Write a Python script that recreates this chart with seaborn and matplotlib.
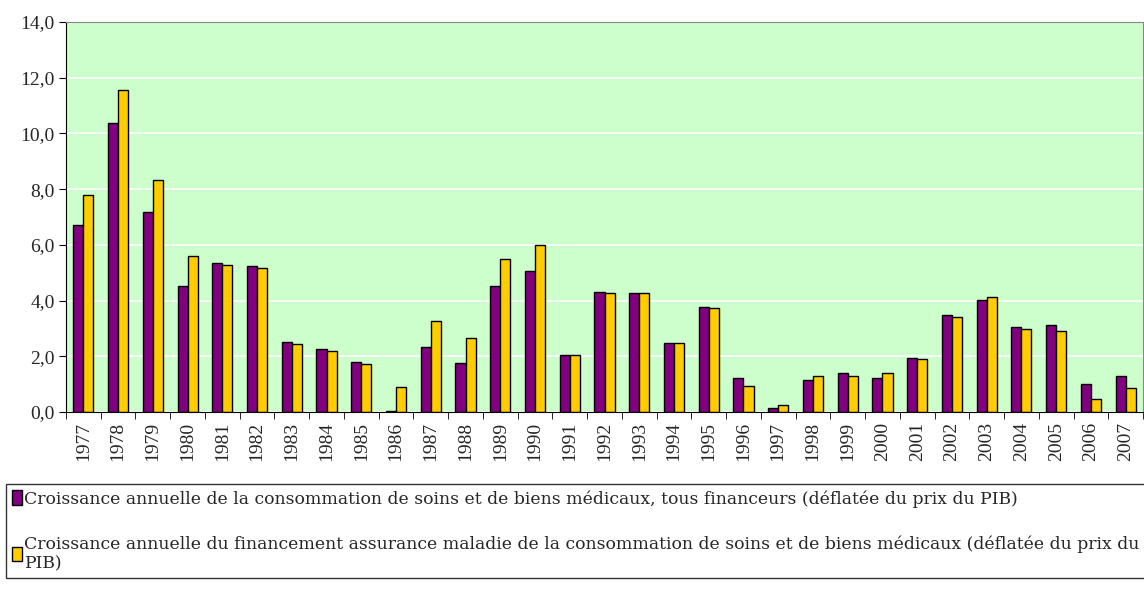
import numpy as np
import pandas as pd
import matplotlib
matplotlib.use("Agg")
import matplotlib.pyplot as plt
import seaborn as sns
from matplotlib.ticker import FuncFormatter, FixedLocator

years = [str(y) for y in range(1977, 2008)]
conso = [6.71, 10.37, 7.18, 4.52, 5.35, 5.24, 2.51, 2.26, 1.80, 0.02,
         2.34, 1.75, 4.52, 5.07, 2.03, 4.29, 4.28, 2.46, 3.76, 1.23,
         0.13, 1.15, 1.41, 1.22, 1.95, 3.49, 4.02, 3.04, 3.13, 1.02, 1.30]
assur = [7.79, 11.56, 8.33, 5.60, 5.28, 5.17, 2.44, 2.19, 1.71, 0.91,
         3.28, 2.67, 5.49, 5.99, 2.06, 4.26, 4.28, 2.49, 3.74, 0.92,
         0.25, 1.28, 1.29, 1.39, 1.90, 3.42, 4.14, 2.97, 2.92, 0.48, 0.87]
lab1 = "Croissance annuelle de la consommation de soins et de biens médicaux, tous financeurs (déflatée du prix du PIB)"
lab2 = ("Croissance annuelle du financement assurance maladie de la consommation de soins et de biens médicaux (déflatée du prix du\n"
        "PIB)")

df = pd.DataFrame({
    "annee": years * 2,
    "valeur": conso + assur,
    "serie": [lab1] * len(years) + [lab2] * len(years),
})

sns.set_style("white")
plt.rcParams["font.family"] = ["Liberation Serif", "DejaVu Serif"]

fig = plt.figure(figsize=(11.44, 5.92), dpi=100)
ax = fig.add_axes([66 / 1144, 1 - 412 / 592, (1143 - 66) / 1144, (412 - 22) / 592])
ax.set_facecolor("#CCFFCC")

sns.barplot(data=df, x="annee", y="valeur", hue="serie", ax=ax,
            palette=["#800080", "#FFCC00"], width=0.58,
            edgecolor="black", linewidth=1, saturation=1)

ax.set_ylim(0, 14)
ax.set_xlim(-0.5, len(years) - 0.5)
ax.set_yticks(np.arange(0, 15, 2))
ax.yaxis.set_major_formatter(FuncFormatter(lambda v, p: f"{v:.1f}".replace(".", ",")))
ax.grid(axis="y", color="white", linewidth=1.2)
ax.set_axisbelow(True)
ax.set_xlabel("")
ax.set_ylabel("")

ax.tick_params(axis="x", which="major", length=0, rotation=90, labelsize=14, pad=7)
ax.xaxis.set_minor_locator(FixedLocator(np.arange(-0.5, len(years), 1)))
ax.tick_params(axis="x", which="minor", length=5, color="black", direction="out", bottom=True)
ax.tick_params(axis="y", length=5, color="black", direction="out", left=True, labelsize=14, pad=3)

for s in ["left", "bottom"]:
    ax.spines[s].set_color("black")
for s in ["top", "right"]:
    ax.spines[s].set_color("#888888")

ax.get_legend().remove()
handles, labels = ax.get_legend_handles_labels()
leg = fig.legend(handles, labels, loc="upper left",
                 bbox_to_anchor=(6 / 1144, 0, 1 - 6 / 1144 + 0.01, 1 - 484 / 592),
                 mode="expand", frameon=True, fancybox=False,
                 prop={"family": "DejaVu Serif", "size": 12.4},
                 handlelength=0.55, handleheight=0.9, handletextpad=0.15,
                 labelspacing=1.6, borderpad=0.35, borderaxespad=0)
leg.get_frame().set_edgecolor("black")
leg.get_frame().set_linewidth(1)

fig.savefig("out.png", dpi=100)
